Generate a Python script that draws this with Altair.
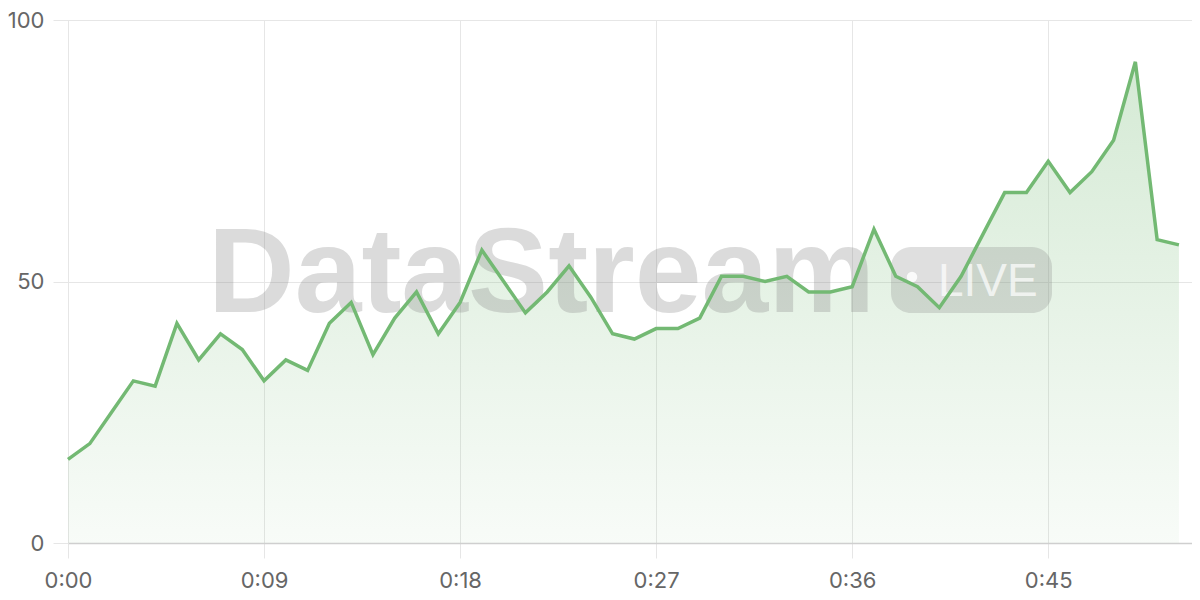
import altair as alt
import pandas as pd

seconds = list(range(52))
values = [16, 19, 25, 31, 30, 42, 35, 40, 37, 31,
          35, 33, 42, 46, 36, 43, 48, 40, 46, 56,
          50, 44, 48, 53, 47, 40, 39, 41, 41, 43,
          51, 51, 50, 51, 48, 48, 49, 60, 51, 49,
          45, 51, 59, 67, 67, 73, 67, 71, 77, 92,
          58, 57]
x_ticks = [0, 9, 18, 27, 36, 45]
y_ticks = [0, 50, 100]
watermark_text = "DataStream"
badge_text = "LIVE"

df = pd.DataFrame({"t": seconds, "v": values})

GREEN = "#73b973"
FONT = "Inter"

x_enc = alt.X(
    "t:Q",
    scale=alt.Scale(domain=[0, 51.6], nice=False, zero=False),
    axis=alt.Axis(
        values=x_ticks,
        labelExpr="'0:' + (datum.value < 10 ? '0' : '') + datum.value",
        title=None,
        grid=True,
        gridColor="#e6e6e6",
        gridWidth=1,
        tickSize=15,
        tickColor="#e6e6e6",
        domainColor="#cfcfcf",
        domainWidth=1.5,
        labelFont=FONT,
        labelFontSize=22,
        labelColor="#666666",
        labelPadding=12,
        labelFlush=False,
    ),
)
y_enc = alt.Y(
    "v:Q",
    scale=alt.Scale(domain=[0, 100], nice=False),
    axis=alt.Axis(
        values=y_ticks,
        title=None,
        grid=True,
        gridColor="#e6e6e6",
        gridWidth=1,
        tickSize=15,
        tickColor="#e6e6e6",
        domain=False,
        labelFont=FONT,
        labelFontSize=22,
        labelColor="#666666",
        labelPadding=9,
    ),
)

base = alt.Chart(df)

area = base.mark_area(
    color=alt.Gradient(
        gradient="linear",
        stops=[
            alt.GradientStop(color="rgba(115,185,115,0.30)", offset=0),
            alt.GradientStop(color="rgba(115,185,115,0.05)", offset=1),
        ],
        x1=1, x2=1, y1=0, y2=1,
    ),
    line=False,
).encode(x=x_enc, y=y_enc)

line = base.mark_line(color=GREEN, strokeWidth=3.5, strokeJoin="miter").encode(
    x="t:Q", y="v:Q"
)

wm = alt.Chart(pd.DataFrame({"label": [watermark_text]})).mark_text(
    font="Liberation Sans",
    fontWeight="bold",
    fontSize=120,
    align="left",
    baseline="alphabetic",
    color="#808080",
    opacity=0.28,
).encode(x=alt.value(140), y=alt.value(292), text="label:N")

badge = alt.Chart(pd.DataFrame({"k": [1]})).mark_rect(
    color="#808080", opacity=0.25, cornerRadius=20
).encode(x=alt.value(823), x2=alt.value(984), y=alt.value(227), y2=alt.value(293))

dot = alt.Chart(pd.DataFrame({"k": [1]})).mark_point(
    filled=True, shape="circle", color="white", opacity=0.85, size=110
).encode(x=alt.value(844), y=alt.value(257))

live = alt.Chart(pd.DataFrame({"label": [badge_text]})).mark_text(
    font="Liberation Sans",
    fontSize=46,
    align="left",
    baseline="alphabetic",
    color="white",
    opacity=0.7,
).encode(x=alt.value(870), y=alt.value(276), text="label:N")

chart = (
    alt.layer(area, wm, badge, dot, live, line)
    .properties(
        width=1124,
        height=523,
        padding={"left": 60, "top": 12, "right": 0, "bottom": 49},
        autosize="none",
    )
    .configure_view(stroke="transparent")
    .configure(background="white")
)

chart.save("out.html", embed_options={"renderer": "svg", "actions": False})
